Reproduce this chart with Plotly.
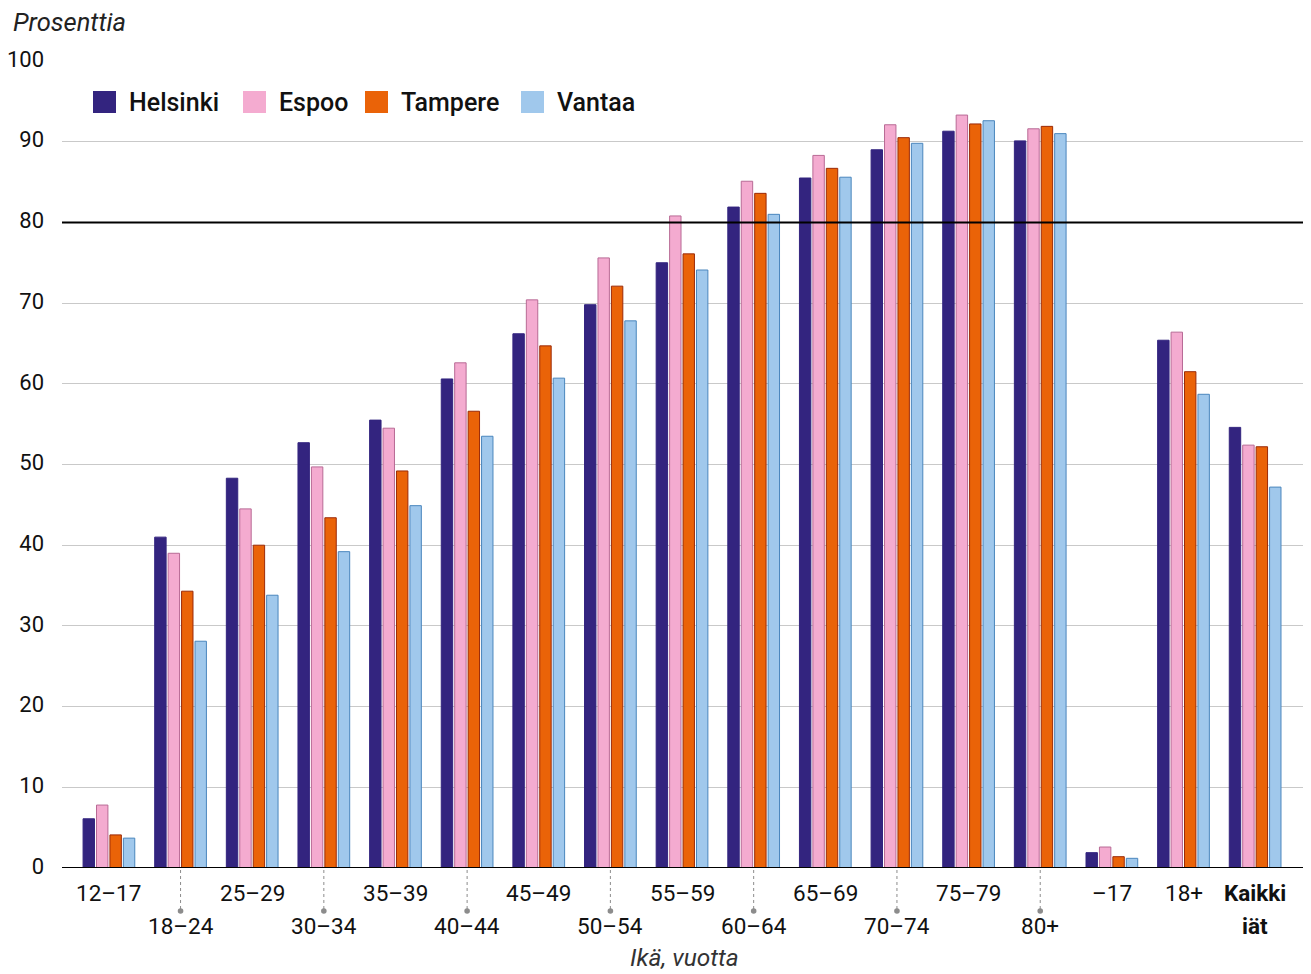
import plotly.graph_objects as go

categories = ["12–17", "18–24", "25–29", "30–34", "35–39", "40–44", "45–49", "50–54",
              "55–59", "60–64", "65–69", "70–74", "75–79", "80+", "–17", "18+", "<b>Kaikki<br>iät</b>"]
lower_labels = [False, True, False, True, False, True, False, True,
                False, True, False, True, False, True, False, False, False]

helsinki = [6.1, 41.0, 48.3, 52.7, 55.5, 60.6, 66.2, 69.8, 75.0, 81.9, 85.5, 89.0, 91.3, 90.1, 1.9, 65.4, 54.6]
espoo    = [7.8, 39.0, 44.5, 49.7, 54.5, 62.6, 70.4, 75.6, 80.8, 85.1, 88.3, 92.1, 93.3, 91.6, 2.6, 66.4, 52.4]
tampere  = [4.1, 34.3, 40.0, 43.4, 49.2, 56.6, 64.7, 72.1, 76.1, 83.6, 86.7, 90.5, 92.2, 91.9, 1.4, 61.5, 52.2]
vantaa   = [3.7, 28.1, 33.8, 39.2, 44.9, 53.5, 60.7, 67.8, 74.1, 81.0, 85.6, 89.8, 92.6, 91.0, 1.2, 58.7, 47.2]

series = [
    ("Helsinki", helsinki, "#33247f", "#33247f"),
    ("Espoo", espoo, "#f4abd0", "#b86a95"),
    ("Tampere", tampere, "#ea6308", "#9b2a08"),
    ("Vantaa", vantaa, "#a0c8ec", "#4a86bd"),
]

FONT = "Roboto"
xs = list(range(len(categories)))

# page has an 8px body margin: compensate so the figure lands where the reference is
OFF = 8
FIG_W, FIG_H = 1311 - OFF, 974 - OFF
PL, PR, PT, PB = 62, 1306, 61, 868          # plot area in page pixels
L, T = PL - OFF, PT - OFF
R = FIG_W - (PR - OFF)
B = FIG_H - (PB - OFF)
W = PR - PL
H = PB - PT

def px(xp):
    return (xp - PL) / W

def py(yp):
    return (PB - yp) / H

fig = go.Figure()
for name, vals, fill, line in series:
    fig.add_trace(go.Bar(x=xs, y=vals, name=name, marker_color=fill,
                         marker_line_color=line, marker_line_width=1,
                         showlegend=False, hoverinfo="x+y+name"))

fig.update_layout(
    width=FIG_W, height=FIG_H,
    margin=dict(l=L, r=R, t=T, b=B, pad=0, autoexpand=False),
    paper_bgcolor="white", plot_bgcolor="white",
    barmode="group", bargap=0.25, bargroupgap=0.15,
    font=dict(family=FONT, size=22, color="#111111"),
    xaxis=dict(range=[-0.655, 16.71], showticklabels=False, showgrid=False, automargin=False,
               zeroline=False, showline=False, fixedrange=True),
    yaxis=dict(range=[0, 100], tickvals=list(range(0, 101, 10)), automargin=False,
               showgrid=True, gridcolor="#c9c9c9", gridwidth=1,
               zeroline=False, showline=False, ticks="",
               ticklabelstandoff=17, ticklabelshift=-2,
               tickfont=dict(size=22, color="#111111", family=FONT)),
)

shapes = []
annotations = []
shapes.append(dict(type="line", xref="paper", yref="y", x0=0, x1=1, y0=80, y1=80,
                   line=dict(color="black", width=2), layer="above"))
shapes.append(dict(type="line", xref="paper", yref="y", x0=0, x1=1, y0=0, y1=0,
                   line=dict(color="black", width=2), layer="above"))

LAB = dict(size=22.5, family=FONT, color="#111111")
for i, (lab, low) in enumerate(zip(categories, lower_labels)):
    if low:
        shapes.append(dict(type="line", xref="x", yref="paper", ysizemode="pixel", yanchor=0,
                           x0=i, x1=i, y0=-2, y1=-41,
                           line=dict(color="#8c8c8c", width=1, dash="dot")))
        shapes.append(dict(type="circle", xref="x", yref="paper",
                           xsizemode="pixel", ysizemode="pixel", xanchor=i, yanchor=0,
                           x0=-2.8, x1=2.8, y0=-40.2, y1=-45.8,
                           fillcolor="#8c8c8c", line=dict(width=0)))
        annotations.append(dict(x=i, y=0, xref="x", yref="paper", text=lab, showarrow=False,
                                yanchor="middle", yshift=-58, font=LAB))
    elif "<br>" in lab:
        top, bottom = lab.replace("<b>", "").replace("</b>", "").split("<br>")
        annotations.append(dict(x=i, y=0, xref="x", yref="paper", text="<b>" + top + "</b>",
                                showarrow=False, yanchor="middle", yshift=-25, font=LAB))
        annotations.append(dict(x=i, y=0, xref="x", yref="paper", text="<b>" + bottom + "</b>",
                                showarrow=False, yanchor="middle", yshift=-58, font=LAB))
    else:
        annotations.append(dict(x=i, y=0, xref="x", yref="paper", text=lab, showarrow=False,
                                yanchor="middle", yshift=-25, font=LAB))

# custom legend (page pixel positions)
legend_x = [93, 243, 365, 521]
for (name, vals, fill, line), lx in zip(series, legend_x):
    shapes.append(dict(type="rect", xref="paper", yref="paper",
                       x0=px(lx), x1=px(lx + 23), y0=py(113), y1=py(91),
                       fillcolor=fill, line=dict(width=0)))
    annotations.append(dict(x=px(lx + 34), y=py(102), xref="paper", yref="paper",
                            text=name, showarrow=False, xanchor="left", yanchor="middle",
                            font=dict(size=25, family=FONT, color="#111111", weight=500)))

annotations.append(dict(x=px(11), y=py(22), xref="paper", yref="paper", text="<i>Prosenttia</i>",
                        showarrow=False, xanchor="left", yanchor="middle",
                        font=dict(size=25.5, family=FONT, color="#222222")))
annotations.append(dict(x=0.5, y=py(958), xref="paper", yref="paper", text="<i>Ikä, vuotta</i>",
                        showarrow=False, xanchor="center", yanchor="middle",
                        font=dict(size=24.5, family=FONT, color="#333333")))

fig.update_layout(shapes=shapes, annotations=annotations)
fig.write_html("out.html")
